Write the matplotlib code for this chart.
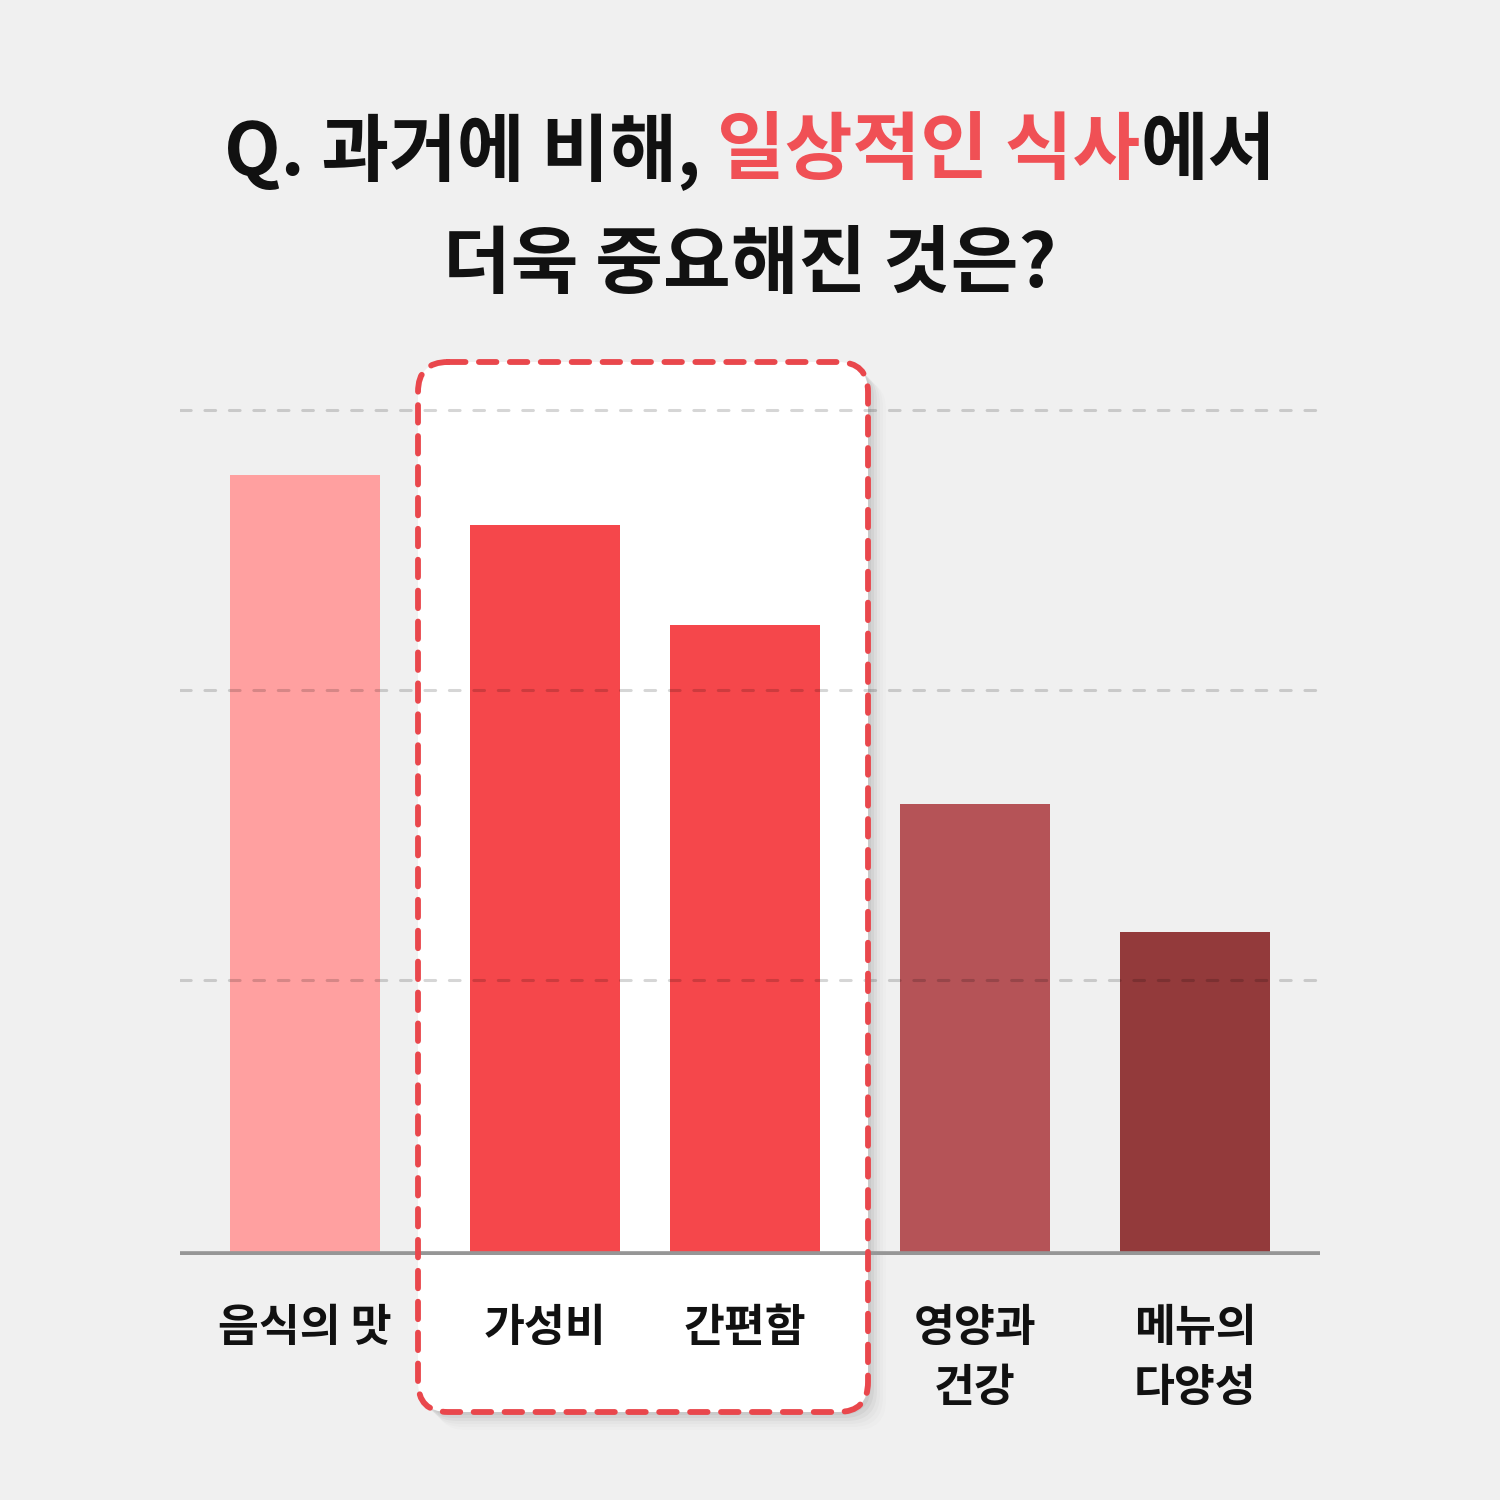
import matplotlib
matplotlib.use("Agg")
import matplotlib.pyplot as plt
from matplotlib.patches import FancyBboxPatch

plt.rcParams["font.family"] = ["Noto Sans CJK KR", "DejaVu Sans"]

# data
categories = ["음식의 맛", "가성비", "간편함", "영양과\n건강", "메뉴의\n다양성"]
values = [78.0, 73.0, 63.0, 45.1, 32.3]
grid_levels = [27.5, 56.5, 84.5]
bar_colors = ["#ffa0a0", "#f5474b", "#f5474b", "#b55357", "#933a3b"]
title_parts = [("Q. 과거에 비해, ", "#111111"), ("일상적인 식사", "#f05055"), ("에서", "#111111")]
title_line2 = "더욱 중요해진 것은?"

# layout (pixel based, figure is 1500x1500)
x_pos = [305, 545, 745, 975, 1195]
bar_width = 150
bg = "#f0f0f0"

fig = plt.figure(figsize=(15, 15), dpi=100, facecolor=bg)

# overlay axes in pixel coords for the highlight box
bg_ax = fig.add_axes([0, 0, 1, 1], zorder=0)
bg_ax.set_xlim(0, 1500)
bg_ax.set_ylim(1500, 0)
bg_ax.axis("off")

box_x, box_y, box_w, box_h = 418, 362, 450, 1050
for i, a in enumerate([0.04, 0.035, 0.03, 0.02, 0.015, 0.01]):
    off = 3 + i * 3
    bg_ax.add_patch(FancyBboxPatch((box_x + off, box_y + off), box_w, box_h,
                                   boxstyle="round,pad=0,rounding_size=30",
                                   facecolor="black", edgecolor="none", alpha=a))
bg_ax.add_patch(FancyBboxPatch((box_x, box_y), box_w, box_h,
                               boxstyle="round,pad=0,rounding_size=30",
                               facecolor="white", edgecolor="none"))

# chart axes
ax = fig.add_axes([180 / 1500, 245 / 1500, 1140 / 1500, 915 / 1500], zorder=1)
ax.set_facecolor("none")
ax.set_xlim(180, 1320)
ax.set_ylim(0, 91.5)

ax.bar(x_pos, values, width=bar_width, color=bar_colors, zorder=2)
for g in grid_levels:
    ax.axhline(g, color="black", alpha=0.16, lw=2.2, ls=(0, (3.5, 4.5)),
               dash_capstyle="round", zorder=3)
ax.axhline(0, color="#969696", lw=5.5, zorder=4, solid_capstyle="butt")

for s in ax.spines.values():
    s.set_visible(False)
ax.set_yticks([])
ax.set_xticks(x_pos, categories)
ax.tick_params(axis="x", length=0, pad=36)
for lbl in ax.get_xticklabels():
    lbl.set_fontsize(32)
    lbl.set_fontweight("bold")
    lbl.set_color("#111111")
    lbl.set_linespacing(1.38)

# dashed border on top
border_ax = fig.add_axes([0, 0, 1, 1], zorder=2)
border_ax.set_xlim(0, 1500)
border_ax.set_ylim(1500, 0)
border_ax.axis("off")
border_ax.set_facecolor("none")
border_ax.add_patch(FancyBboxPatch((box_x, box_y), box_w, box_h,
                                   boxstyle="round,pad=0,rounding_size=30",
                                   facecolor="none", edgecolor="#e9474c", lw=4.2,
                                   ls=(0, (3.0, 2.3)), capstyle="round"))

# title
title_size = 53
renderer = fig.canvas.get_renderer()
pieces = []
for txt, col in title_parts:
    t = fig.text(0, 0, txt, fontsize=title_size, fontweight="heavy", color=col)
    pieces.append(t)
widths = [p.get_window_extent(renderer).width for p in pieces]
total = sum(widths)
x0 = 750 - total / 2
for p, w in zip(pieces, widths):
    p.set_position((x0 / 1500, 1 - 152 / 1500))
    p.set_va("center")
    x0 += w
fig.text(0.5, 1 - 266 / 1500, title_line2, fontsize=title_size, fontweight="heavy",
         color="#111111", ha="center", va="center")

fig.savefig("out.png", dpi=100, facecolor=bg)
